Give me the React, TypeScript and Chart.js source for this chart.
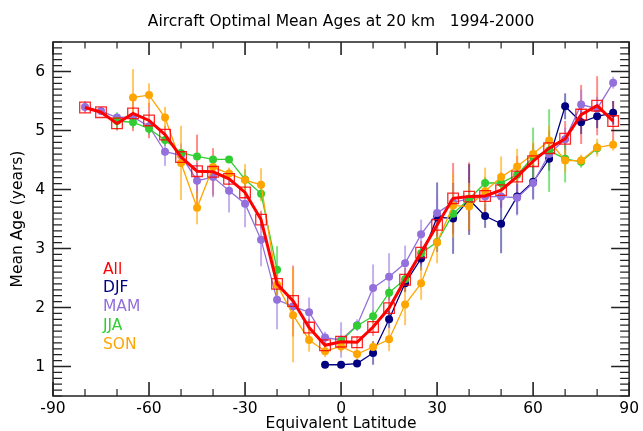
import { useEffect, useRef } from "react";
import { Chart, registerables } from "chart.js";

Chart.register(...registerables);

// equivalent latitude bins (deg)
const lats = [-80, -75, -70, -65, -60, -55, -50, -45, -40, -35, -30, -25, -20, -15, -10, -5, 0, 5, 10, 15, 20, 25, 30, 35, 40, 45, 50, 55, 60, 65, 70, 75, 80, 85];

// mean ages (years) per season
const allAge = [5.39, 5.31, 5.12, 5.29, 5.17, 4.93, 4.55, 4.31, 4.3, 4.18, 3.95, 3.49, 2.4, 2.11, 1.66, 1.36, 1.42, 1.41, 1.67, 1.99, 2.47, 2.93, 3.4, 3.85, 3.88, 3.89, 3.99, 4.22, 4.48, 4.7, 4.86, 5.27, 5.42, 5.16];
const allErr = [0.08, 0.05, 0.12, 0.3, 0.3, 0.15, 0.1, 0.62, 0.4, 0.1, 0.1, 0.15, 0.2, 0.6, 0.15, 0.1, 0.1, 0.1, 0.15, 0.2, 0.2, 0.2, 0.2, 0.6, 0.58, 0.3, 0.3, 0.35, 0.3, 0.3, 0.3, 0.5, 0.5, 0.34];

const djfAge = [null, null, null, null, null, null, null, null, null, null, null, null, null, null, null, 1.03, 1.03, 1.05, 1.23, 1.8, 2.41, 2.83, 3.53, 3.51, 3.83, 3.55, 3.42, 3.88, 4.13, 4.52, 5.41, 5.14, 5.24, 5.3];
const djfErr = [null, null, null, null, null, null, null, null, null, null, null, null, null, null, null, 0.05, 0.05, 0.05, 0.2, 0.15, 0.15, 0.2, 0.59, 0.6, 0.6, 0.2, 0.5, 0.3, 0.3, 0.2, 0.22, 0.2, 0.2, 0.2];

const mamAge = [5.4, 5.33, 5.22, 5.23, 5.07, 4.64, 4.58, 4.15, 4.21, 3.98, 3.76, 3.15, 2.13, 2.02, 1.92, 1.49, 1.45, 1.7, 2.33, 2.52, 2.75, 3.24, 3.6, 3.78, 3.84, 3.88, 3.88, 3.86, 4.11, 4.6, 4.85, 5.44, 5.37, 5.81];
const mamErr = [0.1, 0.05, 0.05, 0.1, 0.1, 0.24, 0.2, 0.3, 0.34, 0.37, 0.4, 0.45, 0.5, 0.2, 0.25, 0.1, 0.3, 0.1, 0.4, 0.4, 0.3, 0.25, 0.3, 0.3, 0.2, 0.2, 0.2, 0.3, 0.25, 0.2, 0.2, 0.25, 0.2, 0.1];

const jjaAge = [null, null, 5.16, 5.14, 5.03, 4.84, 4.62, 4.56, 4.51, 4.51, 4.17, 3.93, 2.64, null, null, null, 1.43, 1.69, 1.85, 2.25, 2.48, 2.92, 3.11, 3.59, 3.84, 4.11, 4.11, 4.25, 4.55, 4.66, 4.52, 4.47, 4.7, null];
const jjaErr = [null, null, 0.15, 0.1, 0.1, 0.1, 0.05, 0.05, 0.05, 0.05, 0.17, 0.1, 0.4, null, null, null, 0.05, 0.05, 0.1, 0.1, 0.1, 0.1, 0.1, 0.1, 0.1, 0.1, 0.1, 0.1, 0.5, 0.7, 0.4, 0.1, 0.1, null];

const sonAge = [null, null, null, 5.56, 5.6, 5.22, 4.45, 3.69, 4.38, 4.27, 4.16, 4.08, 2.39, 1.87, 1.45, 1.26, 1.34, 1.21, 1.33, 1.46, 2.05, 2.41, 3.1, 3.73, 3.71, 3.97, 4.21, 4.39, 4.6, 4.83, 4.49, 4.49, 4.71, 4.76];
const sonErr = [null, null, null, 0.48, 0.2, 0.18, 0.63, 0.28, 0.1, 0.1, 0.27, 0.28, 0.3, 0.8, 0.2, 0.1, 0.1, 0.1, 0.1, 0.2, 0.35, 0.28, 0.35, 0.55, 0.4, 0.4, 0.35, 0.3, 0.2, 0.25, 0.2, 0.1, 0.15, 0.1];

const xTicks = [-90, -60, -30, 0, 30, 60, 90];
const yTicks = [1, 2, 3, 4, 5, 6];

const FONT = "'DejaVu Sans', sans-serif";
const FSIZE = 15.5;

const toPoints = (vals) => lats.map((x, i) => ({ x, y: vals[i] }));

// vertical error bars, drawn under the markers
const errorBars = {
	id: "errorBars",
	beforeDatasetsDraw(chart) {
		const { ctx, scales } = chart;
		ctx.save();
		chart.data.datasets.forEach((ds: any) => {
			ctx.strokeStyle = ds.errColor;
			ctx.lineWidth = 2;
			ds.data.forEach((p, i) => {
				const e = ds.errors[i];
				if (p.y == null || e == null) return;
				const px = scales.x.getPixelForValue(p.x);
				ctx.beginPath();
				ctx.moveTo(px, scales.y.getPixelForValue(p.y - e));
				ctx.lineTo(px, scales.y.getPixelForValue(p.y + e));
				ctx.stroke();
			});
		});
		ctx.restore();
	},
};

// box frame with inward major/minor ticks on all four sides
const frameTicks = {
	id: "frameTicks",
	afterDatasetsDraw(chart) {
		const { ctx, chartArea: a, scales } = chart;
		ctx.save();
		ctx.strokeStyle = "#222";
		for (let v = -90; v <= 90; v += 10) {
			const px = scales.x.getPixelForValue(v);
			const major = v % 30 === 0;
			ctx.lineWidth = major ? 1.6 : 1.2;
			ctx.beginPath();
			ctx.moveTo(px, a.bottom);
			ctx.lineTo(px, a.bottom - (major ? 14 : 7));
			ctx.moveTo(px, a.top);
			ctx.lineTo(px, a.top + (major ? 13 : 6.5));
			ctx.stroke();
		}
		for (let k = 5; k <= 65; k++) {
			const py = scales.y.getPixelForValue(k / 10);
			const major = k % 10 === 0;
			ctx.lineWidth = major ? 1.6 : 1.2;
			ctx.beginPath();
			ctx.moveTo(a.left, py);
			ctx.lineTo(a.left + (major ? 18 : 9), py);
			ctx.moveTo(a.right, py);
			ctx.lineTo(a.right - (major ? 18 : 9), py);
			ctx.stroke();
		}
		ctx.lineWidth = 1.5;
		ctx.strokeRect(a.left, a.top, a.right - a.left, a.bottom - a.top);
		ctx.restore();
	},
};

// coloured text legend inside the plot
const textLegend = {
	id: "textLegend",
	afterDraw(chart) {
		const { ctx, chartArea: a } = chart;
		ctx.save();
		ctx.font = `${FSIZE}px ${FONT}`;
		ctx.textBaseline = "middle";
		ctx.textAlign = "left";
		chart.data.datasets.forEach((ds: any, i) => {
			ctx.fillStyle = ds.legendColor;
			ctx.fillText(ds.label, a.left + 50, a.top + 227.5 + i * 18.9);
		});
		ctx.restore();
	},
};

const series = (label, vals, errs, color, errColor, order, extra = {}) => ({
	label,
	order,
	data: toPoints(vals),
	errors: errs,
	errColor,
	legendColor: color,
	borderColor: color,
	backgroundColor: color,
	borderWidth: 1.3,
	pointRadius: 4,
	pointBorderWidth: 0,
	pointBackgroundColor: color,
	spanGaps: false,
	...extra,
});

const App = () => {
	const chartRef = useRef<HTMLCanvasElement | null>(null);

	useEffect(() => {
		document.body.style.margin = "0";
		const font = { family: FONT, size: FSIZE };
		const myChart = new Chart(chartRef.current, {
			type: "line",
			data: {
				datasets: [
					series("All", allAge, allErr, "#ff0000", "rgba(255,0,0,0.45)", 0, {
						borderWidth: 3,
						pointStyle: "rect",
						pointRadius: 7.5,
						pointBorderWidth: 1.3,
						pointBorderColor: "rgba(255,0,0,0.85)",
						pointBackgroundColor: "rgba(0,0,0,0)",
					}),
					series("DJF", djfAge, djfErr, "#000080", "rgba(0,0,128,0.5)", 4),
					series("MAM", mamAge, mamErr, "#9370db", "rgba(147,112,219,0.55)", 3),
					series("JJA", jjaAge, jjaErr, "#32cd32", "rgba(50,205,50,0.6)", 2),
					series("SON", sonAge, sonErr, "#ffa500", "rgba(255,165,0,0.6)", 1),
				],
			},
			options: {
				animation: false,
				responsive: true,
				maintainAspectRatio: false,
				layout: { padding: { left: 0, right: 10, top: 0, bottom: 0 } },
				plugins: {
					legend: { display: false },
					tooltip: { enabled: false },
					title: {
						display: true,
						text: "Aircraft Optimal Mean Ages at 20 km   1994-2000",
						fullSize: false,
						color: "#000",
						font: { family: FONT, size: FSIZE, weight: "normal" },
						padding: { top: 13, bottom: 10.4 },
					},
				},
				scales: {
					x: {
						type: "linear",
						min: -90,
						max: 90,
						grid: { display: false, drawTicks: false },
						border: { display: false },
						ticks: { stepSize: 30, padding: 4, maxRotation: 0, autoSkip: false, color: "#000", font },
						afterBuildTicks: (s) => {
							s.ticks = xTicks.map((v) => ({ value: v }));
						},
						afterFit: (s) => {
							s.height = 35;
						},
						title: { display: true, text: "Equivalent Latitude", color: "#000", font, padding: { top: 0, bottom: -2 } },
					},
					y: {
						min: 0.5,
						max: 6.5,
						grid: { display: false, drawTicks: false },
						border: { display: false },
						ticks: { stepSize: 1, padding: 8, color: "#000", font },
						afterBuildTicks: (s) => {
							s.ticks = yTicks.map((v) => ({ value: v }));
						},
						afterFit: (s) => {
							s.width = 53;
						},
						title: { display: true, text: "Mean Age (years)", color: "#000", font, padding: { top: 8.5, bottom: 0 } },
					},
				},
			},
			plugins: [errorBars, frameTicks, textLegend],
		});

		return () => {
			myChart.destroy();
		};
	}, []);

	return (
		<div style={{ width: 643, height: 431 }}>
			<canvas ref={chartRef} />
		</div>
	);
};

export default App;
